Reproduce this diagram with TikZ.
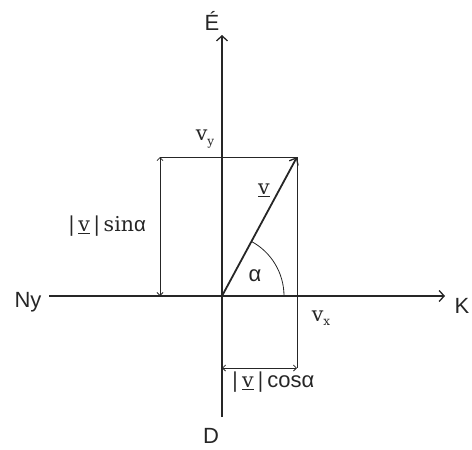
\documentclass[tikz,border=0pt]{standalone}
\usepackage{fontspec}
\newfontfamily\sansf{Liberation Sans}
\newfontfamily\serf{DejaVu Serif}
\usetikzlibrary{arrows.meta}
\begin{document}
\begin{tikzpicture}[x=1pt,y=-1pt,
  axis/.style={line width=1.3pt,draw=black!85},
  thin/.style={line width=0.8pt,draw=black!85},
  vec/.style={line width=1.8pt,draw=black!85},
  barb/.style={-{Straight Barb[length=5pt,width=11pt,line width=1.3pt]}},
  dimarr/.style={{Straight Barb[length=3pt,width=6pt]}-{Straight Barb[length=3pt,width=6pt]}},
  slab/.style={font=\sansf\fontsize{22}{26}\selectfont,inner sep=0pt,text=black!85},
  rlab/.style={font=\serf\fontsize{20.5}{24}\selectfont,inner sep=0pt,text=black!85}]
\useasboundingbox (0,0) rectangle (472,450);
\coordinate (O) at (222,296);
\coordinate (W) at (49,296);
\coordinate (E) at (445,296);
\coordinate (S) at (222,417);
\coordinate (N) at (222,35);
\coordinate (P) at (297,157);
\coordinate (TL) at (160,157);
\coordinate (BL) at (160,296);
\coordinate (R) at (297,368);
\coordinate (BO) at (222,368);
% axes
\draw[axis,barb] (W) -- (E);
\draw[axis,barb] (S) -- (N);
% projection lines
\draw[thin] (TL) -- (P) -- (R);
\draw[thin,dimarr] (TL) -- (BL);
\draw[thin,dimarr] (BO) -- (R);
% vector
\draw[vec,-{Straight Barb[length=6pt,width=10pt,line width=1.3pt]}] (O) -- (P);
% angle arc
\draw[thin] (284,296) arc[start angle=0,end angle=-61.8,radius=62];
% labels
\node[slab] (lE) at (212,21) {É};
\node[slab] (lD) at (211,436) {D};
\node[slab] (lNy) at (28,302) {Ny};
\node[slab] (lK) at (462,306) {K};
\node[slab] (lal) at (255,276) {α};
\node[rlab] (lv) at (264,190) {\underline{v}};
\node[rlab] (lvy) at (205,139) {v\raisebox{-0.4ex}{\fontsize{12}{14}\selectfont y}};
\node[rlab] (lvx) at (321,318) {v\raisebox{-0.4ex}{\fontsize{12}{14}\selectfont x}};
\node[rlab] (lsin) at (107,226) {|\,\underline{v}\,|\,sin{\sansf α}};
\node[rlab] (lcos) at (273,382) {|\,\underline{v}\,|\,{\sansf\fontsize{22}{26}\selectfont cosα}};
\end{tikzpicture}
\end{document}
